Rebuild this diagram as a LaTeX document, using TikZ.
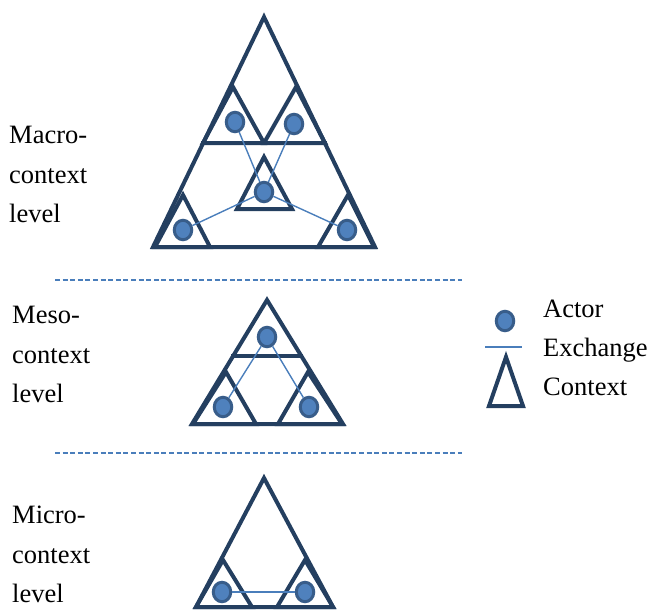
\documentclass[tikz,border=0pt]{standalone}
\usepackage{fontspec}
\setmainfont{Liberation Serif}
\newfontfamily\lblfont{Liberation Serif}
\usetikzlibrary{shapes.geometric}
\definecolor{ctxnavy}{HTML}{243F60}
\definecolor{actfill}{HTML}{4F81BD}
\definecolor{actline}{HTML}{385D8A}
\definecolor{exline}{HTML}{4A7EBB}
\tikzset{
  ctx/.style={draw=ctxnavy, line width=4pt, line join=miter},
  actor/.style={ellipse, draw=actline, line width=3pt, fill=actfill,
    minimum width=17.5pt, minimum height=19.5pt, inner sep=0pt},
  exch/.style={draw=exline, line width=1.4pt},
  sep/.style={draw=exline, line width=1.3pt, dash pattern=on 5pt off 2.6pt},
  lbl/.style={anchor=base west, inner sep=0pt, font=\lblfont\fontsize{26.5}{32}\selectfont}
}
\begin{document}
\begin{tikzpicture}[x=1pt, y=-1pt]
\useasboundingbox (0,0) rectangle (650,610);

% ---------- Macro-context level ----------
\draw[ctx] (264,17) -- (153,247) -- (375,247) -- cycle;
\draw[ctx] (201,143) -- (327,143);
\draw[ctx] (233,87) -- (203,143) -- (264,143) -- cycle;
\draw[ctx] (296,87) -- (264,143) -- (325,143) -- cycle;
\draw[ctx] (264,157) -- (237,209) -- (292,209) -- cycle;
\draw[ctx] (183,195) -- (155,247) -- (210,247) -- cycle;
\draw[ctx] (348,195) -- (318,247) -- (374,247) -- cycle;

\node[actor] (m1) at (235,122) {};
\node[actor] (m2) at (294,124) {};
\node[actor] (m3) at (264,192) {};
\node[actor] (m4) at (183,230) {};
\node[actor] (m5) at (347,230) {};
\draw[exch] (m1) -- (m3);
\draw[exch] (m2) -- (m3);
\draw[exch] (m3) -- (m4);
\draw[exch] (m3) -- (m5);

\node[lbl] (t1a) at (9,143) {Macro-};
\node[lbl] (t1b) at (9,183) {context};
\node[lbl] (t1c) at (9,222) {level};

% separators
\coordinate (s1a) at (55,280);
\coordinate (s1b) at (462,280);
\draw[sep] (s1a) -- (s1b);
\coordinate (s2a) at (55,453);
\coordinate (s2b) at (462,453);
\draw[sep] (s2a) -- (s2b);

% ---------- Meso-context level ----------
\draw[ctx] (267,300) -- (192,424) -- (343,424) -- cycle;
\draw[ctx] (231,356) -- (303,356);
\draw[ctx] (226,372) -- (193,424) -- (256,424) -- cycle;
\draw[ctx] (308,372) -- (278,424) -- (342,424) -- cycle;

\node[actor] (e1) at (267,337) {};
\node[actor] (e2) at (223,407) {};
\node[actor] (e3) at (309,407) {};
\draw[exch] (e1) -- (e2);
\draw[exch] (e1) -- (e3);

\node[lbl] (t2a) at (12,323) {Meso-};
\node[lbl] (t2b) at (12,363) {context};
\node[lbl] (t2c) at (12,402) {level};

% ---------- Micro-context level ----------
\draw[ctx] (264,478) -- (196,607) -- (333,607) -- cycle;
\draw[ctx] (223,560) -- (196,607) -- (252,607) -- cycle;
\draw[ctx] (305,560) -- (277,607) -- (333,607) -- cycle;

\node[actor] (i1) at (222,592) {};
\node[actor] (i2) at (305,592) {};
\draw[exch] (i1) -- (i2);

\node[lbl] (t3a) at (12,523) {Micro-};
\node[lbl] (t3b) at (12,563) {context};
\node[lbl] (t3c) at (12,602) {level};

% ---------- Legend ----------
\node[actor] (la) at (505,321) {};
\coordinate (lx1) at (485,347);
\coordinate (lx2) at (522,347);
\draw[exch] (lx1) -- (lx2);
\draw[ctx] (506,357) -- (489,406) -- (523,406) -- cycle;
\node[lbl] (lt1) at (543,317) {Actor};
\node[lbl] (lt2) at (543,356) {Exchange};
\node[lbl] (lt3) at (543,395) {Context};
\end{tikzpicture}
\end{document}
